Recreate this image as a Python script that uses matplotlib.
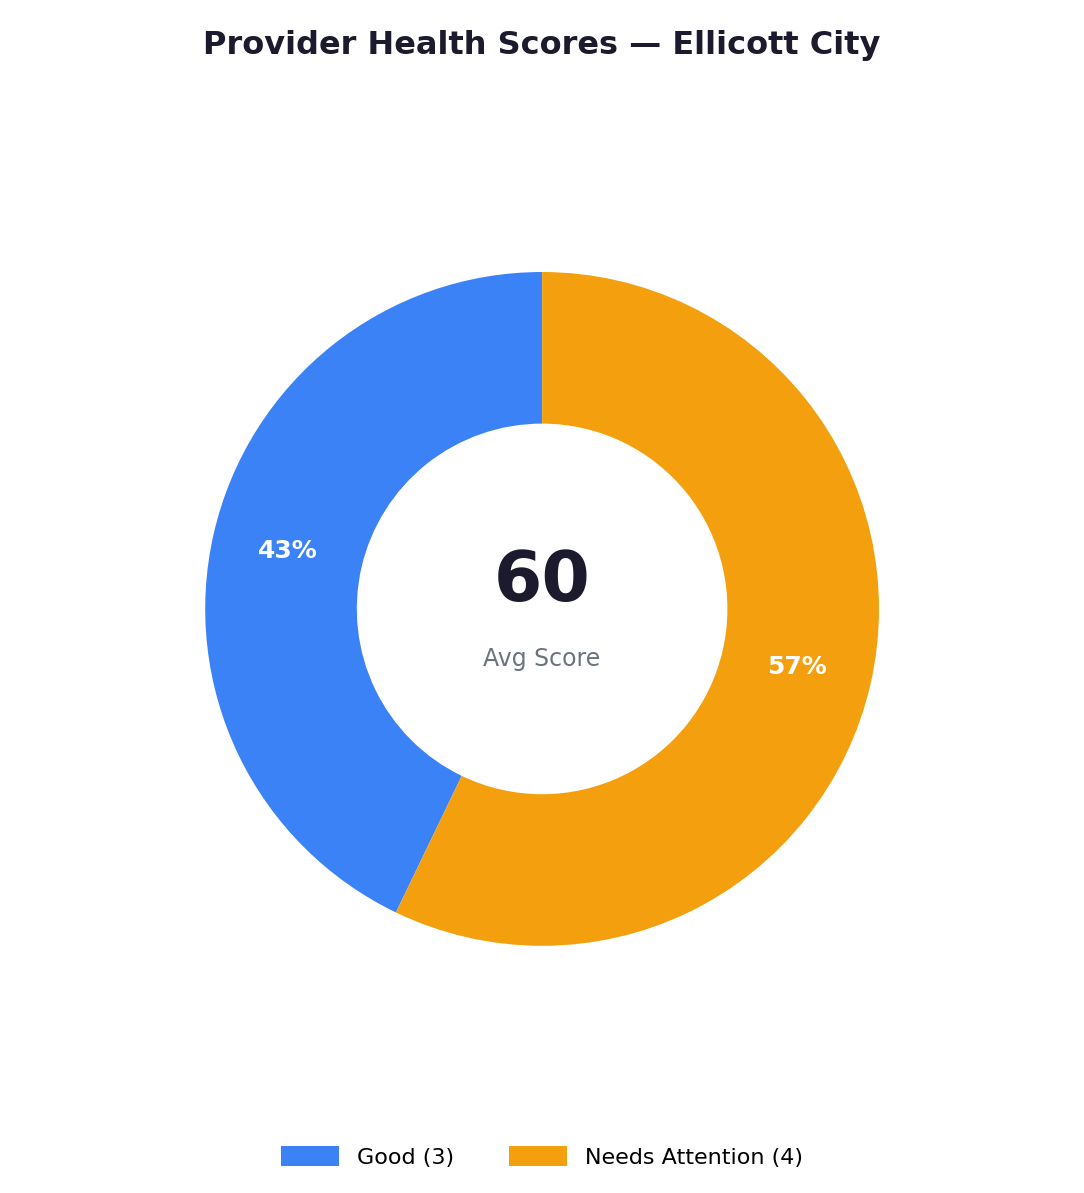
import matplotlib.pyplot as plt

labels = ['Good (3)', 'Needs Attention (4)']
counts = [3, 4]
colors = ['#3B82F6', '#F39F0E']
avg_score = 60

fig = plt.figure(figsize=(10.84, 11.93), dpi=100)
ax = fig.add_axes([0.1116, 0.1366, 0.777, 0.706])

wedges, texts, autotexts = ax.pie(
    counts, colors=colors, startangle=90, counterclock=True,
    autopct='%1.0f%%', pctdistance=0.775,
    wedgeprops=dict(width=0.45, edgecolor='white', linewidth=0),
    textprops=dict(color='white', fontsize=18, fontweight='bold'))
ax.set_aspect('equal')

ax.text(0, 0.08, str(avg_score), ha='center', va='center',
        fontsize=50, fontweight='bold', color='#1c1b2e')
ax.text(0, -0.15, 'Avg Score', ha='center', va='center',
        fontsize=17, color='#6b7280')

fig.suptitle('Provider Health Scores \u2014 Ellicott City', y=0.975,
             fontsize=23, fontweight='bold', color='#1c1b2e')

fig.legend(wedges, labels, loc='center', bbox_to_anchor=(0.5, 0.03),
           ncol=2, frameon=False, fontsize=16, handlelength=2.6,
           handleheight=1.0, columnspacing=2.5)

fig.savefig('out.png', dpi=100)
